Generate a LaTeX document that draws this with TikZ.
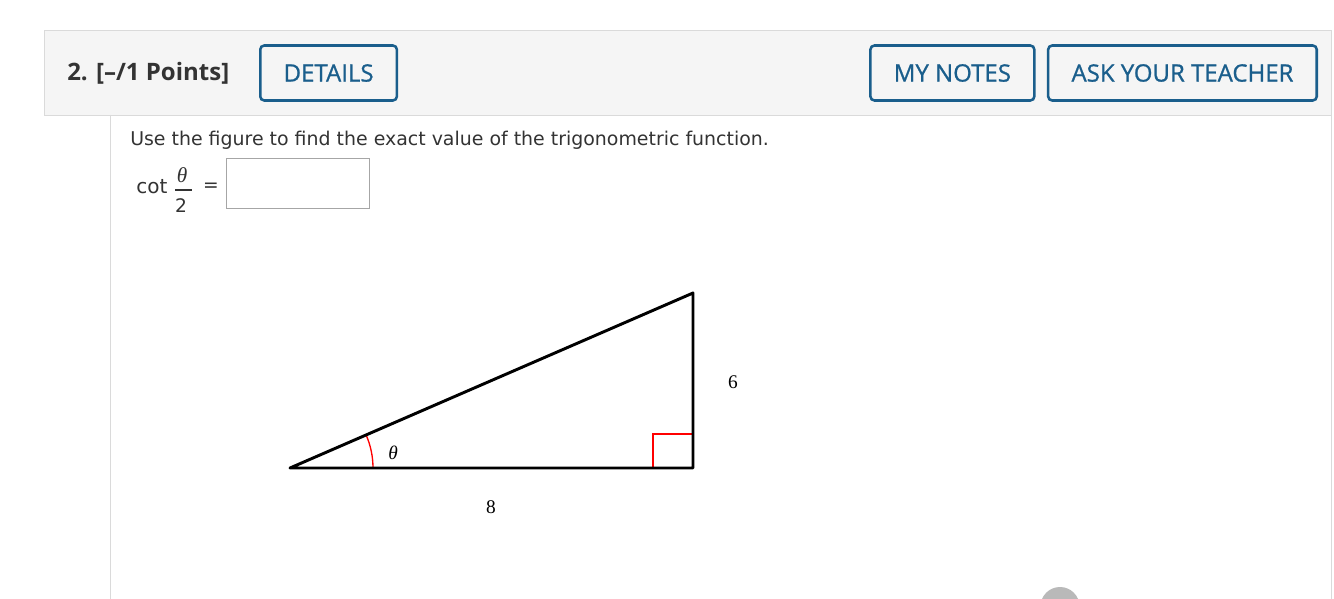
\documentclass[tikz,border=0pt]{standalone}
\usepackage{fontspec}
\setmainfont{DejaVu Sans}
\newfontfamily\headfont{Open Sans}
\newfontfamily\btnfont{Open Sans}[FakeBold=0.9]
\newfontfamily\figfont{Liberation Serif}
\usetikzlibrary{positioning}
\definecolor{btnblue}{HTML}{1A5E8C}
\definecolor{panelgray}{HTML}{F5F5F5}
\definecolor{rulegray}{HTML}{DADADA}
\definecolor{textgray}{HTML}{333333}
\tikzstyle{button}=[draw=btnblue, line width=1.9pt, rounded corners=3pt, text=btnblue,
    inner xsep=17.5pt, minimum height=41.25pt, font=\btnfont\fontsize{18}{21}\selectfont]
\tikzstyle{figlabel}=[font=\figfont\fontsize{14.5}{17}\selectfont, inner sep=0]
\tikzstyle{mathtext}=[text=textgray, inner sep=0, font=\fontsize{14}{16}\selectfont]

\begin{document}
\begin{tikzpicture}[x=0.75pt,y=0.75pt]
    \fill[white] (0,0) rectangle (1334,-599);
    \useasboundingbox (0,0) rectangle (1334,-599);

% Panel
    \draw[rulegray, fill=panelgray] (44,-30) rectangle (1331,-115);
    \draw[rulegray] (110,-115) -- (110,-599);
    \draw[rulegray] (1331,-115) -- (1331,-599);

    \node[anchor=west,
        text=textgray,
        inner sep=0,
        font=\headfont\bfseries\fontsize{18}{21}\selectfont] (number) at (67,-73) {2. [–/1 Points]};

    \node[button, anchor=west] (details) at (259,-73) {DETAILS};
    \node[button, anchor=east] (ask) at (1318,-73) {ASK YOUR TEACHER};
    \node[button, left=8.5pt of ask] (notes) {MY NOTES};

% Question
    \node[anchor=base west,
        text=textgray,
        inner sep=0,
        font=\fontsize{14.2}{17}\selectfont] (question) at (130,-146)
        {Use the figure to find the exact value of the trigonometric function.};

    \node[mathtext, anchor=base west, font=\fontsize{15}{18}\selectfont] (cot) at (136,-193) {cot};
    \node[mathtext, font=\figfont\itshape\fontsize{16}{18}\selectfont] (numer) at (182,-175) {θ};
    \node[mathtext] (denom) at (181,-206) {2};
    \draw[textgray, line width=0.8pt] (175,-190) -- (192,-190);
    \node[mathtext] (eq) at (211,-187) {=};
    \node[draw=gray!70,
        line width=0.9pt,
        anchor=north west,
        minimum width=107pt,
        minimum height=37.5pt,
        inner sep=0] (answer) at (226,-158) {};

% Triangle
    \coordinate (A) at (290,-468);
    \coordinate (B) at (693,-468);
    \coordinate (C) at (693,-293);

    \draw[red, line width=1pt] ([xshift=62.25pt]A) arc[start angle=0, end angle=23.47, radius=83];
    \draw[red, line width=1.3pt] ([xshift=-30pt]B) -- ++(0,34) -- ++(40,0);
    \draw[line width=2.2pt, line join=round] (A) -- (B) -- (C) -- cycle;

    \node[figlabel] (six) at (733,-382) {6};
    \node[figlabel] (eight) at (491,-507) {8};
    \node[figlabel, font=\figfont\itshape\fontsize{14.5}{17}\selectfont] (theta) at (393,-453) {θ};

    \fill[gray!55] (1060,-606.5) circle (19.5);

\end{tikzpicture}
\end{document}
